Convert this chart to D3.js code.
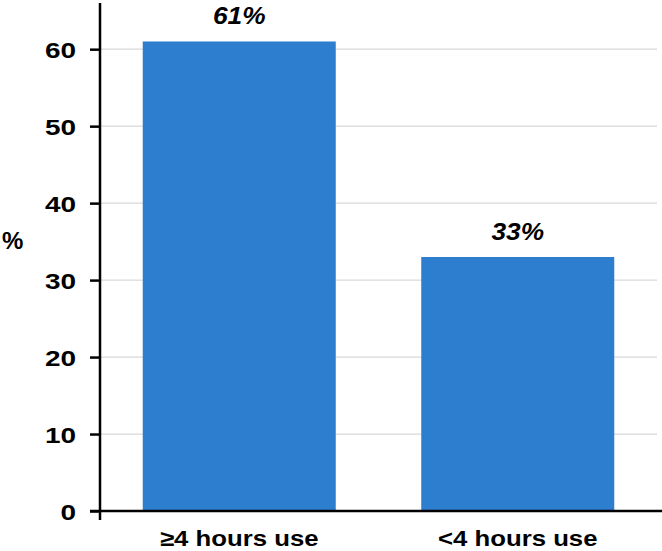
<!DOCTYPE html>
<html>
<head>
<meta charset="utf-8">
<script src="https://cdn.jsdelivr.net/npm/d3@7"></script>
<style>
  body { margin: 0; background: #fff; }
  text { font-family: "Liberation Sans", Arial, sans-serif; font-weight: bold; fill: #000; }
</style>
</head>
<body>
<div class="chart"></div>
<script>
var categories = ["\u22654 hours use", "<4 hours use"];
var values = [61, 33];
var valueLabels = ["61%", "33%"];
var yTicks = [0, 10, 20, 30, 40, 50, 60];

var width = 662;
var height = 551;

var svg = d3.select(".chart").append("svg")
    .attr("width", width)
    .attr("height", height)
    .attr("display", "block");

var y = d3.scaleLinear().domain([0, 66]).range([511, 3]);
var x = d3.scaleBand().domain(categories).range([100, 657])
    .paddingInner(0.307).paddingOuter(0.1535);

// the source image is a bit stretched sideways, so text gets a scaleX
var place = function(px, py, sx) {
  return "translate(" + px + "," + py + ") scale(" + sx + ",1)";
};

// gridlines
svg.selectAll("line.grid").data(yTicks.slice(1)).enter().append("line")
    .attr("class", "grid")
    .attr("x1", 100).attr("x2", 657)
    .attr("y1", function(d) { return y(d); })
    .attr("y2", function(d) { return y(d); })
    .attr("stroke", "#d9d9d9")
    .attr("stroke-width", 1.3);

// bars
svg.selectAll("rect").data(values).enter().append("rect")
    .attr("x", function(d, i) { return x(categories[i]); })
    .attr("width", x.bandwidth())
    .attr("y", function(d) { return y(d); })
    .attr("height", function(d) { return y(0) - y(d); })
    .attr("fill", "#2E7ECF");

// value labels
svg.selectAll("text.val").data(values).enter().append("text")
    .attr("class", "val")
    .attr("transform", function(d, i) { return place(x(categories[i]) + x.bandwidth() / 2, y(d) - 17, 1.12); })
    .attr("text-anchor", "middle")
    .style("font-size", "23.5px")
    .style("font-style", "italic")
    .text(function(d, i) { return valueLabels[i]; });

// y axis
var yAxis = svg.append("g")
    .attr("transform", "translate(100,0)")
    .call(d3.axisLeft(y).tickValues(yTicks).tickSize(10).tickFormat(function() { return ""; }));
yAxis.select(".domain").remove();
yAxis.selectAll(".tick line").attr("stroke", "#000").attr("stroke-width", 2.5);
yAxis.selectAll(".tick").append("text")
    .attr("transform", place(-24, 8, 1.27))
    .attr("text-anchor", "end")
    .style("font-size", "22px")
    .text(function(d) { return d; });

svg.append("line")
    .attr("x1", 100).attr("x2", 100)
    .attr("y1", y(66)).attr("y2", y(0) + 9)
    .attr("stroke", "#000").attr("stroke-width", 2.5);

// x axis
svg.append("line")
    .attr("x1", 90).attr("x2", 662)
    .attr("y1", y(0)).attr("y2", y(0))
    .attr("stroke", "#000").attr("stroke-width", 2.5);

svg.selectAll("text.cat").data(categories).enter().append("text")
    .attr("class", "cat")
    .attr("transform", function(d) { return place(x(d) + x.bandwidth() / 2, 546, 1.17); })
    .attr("text-anchor", "middle")
    .style("font-size", "22px")
    .text(function(d) { return d; });

// y label
svg.append("text")
    .attr("x", 2)
    .attr("y", 249)
    .style("font-size", "24px")
    .text("%");
</script>
</body>
</html>
